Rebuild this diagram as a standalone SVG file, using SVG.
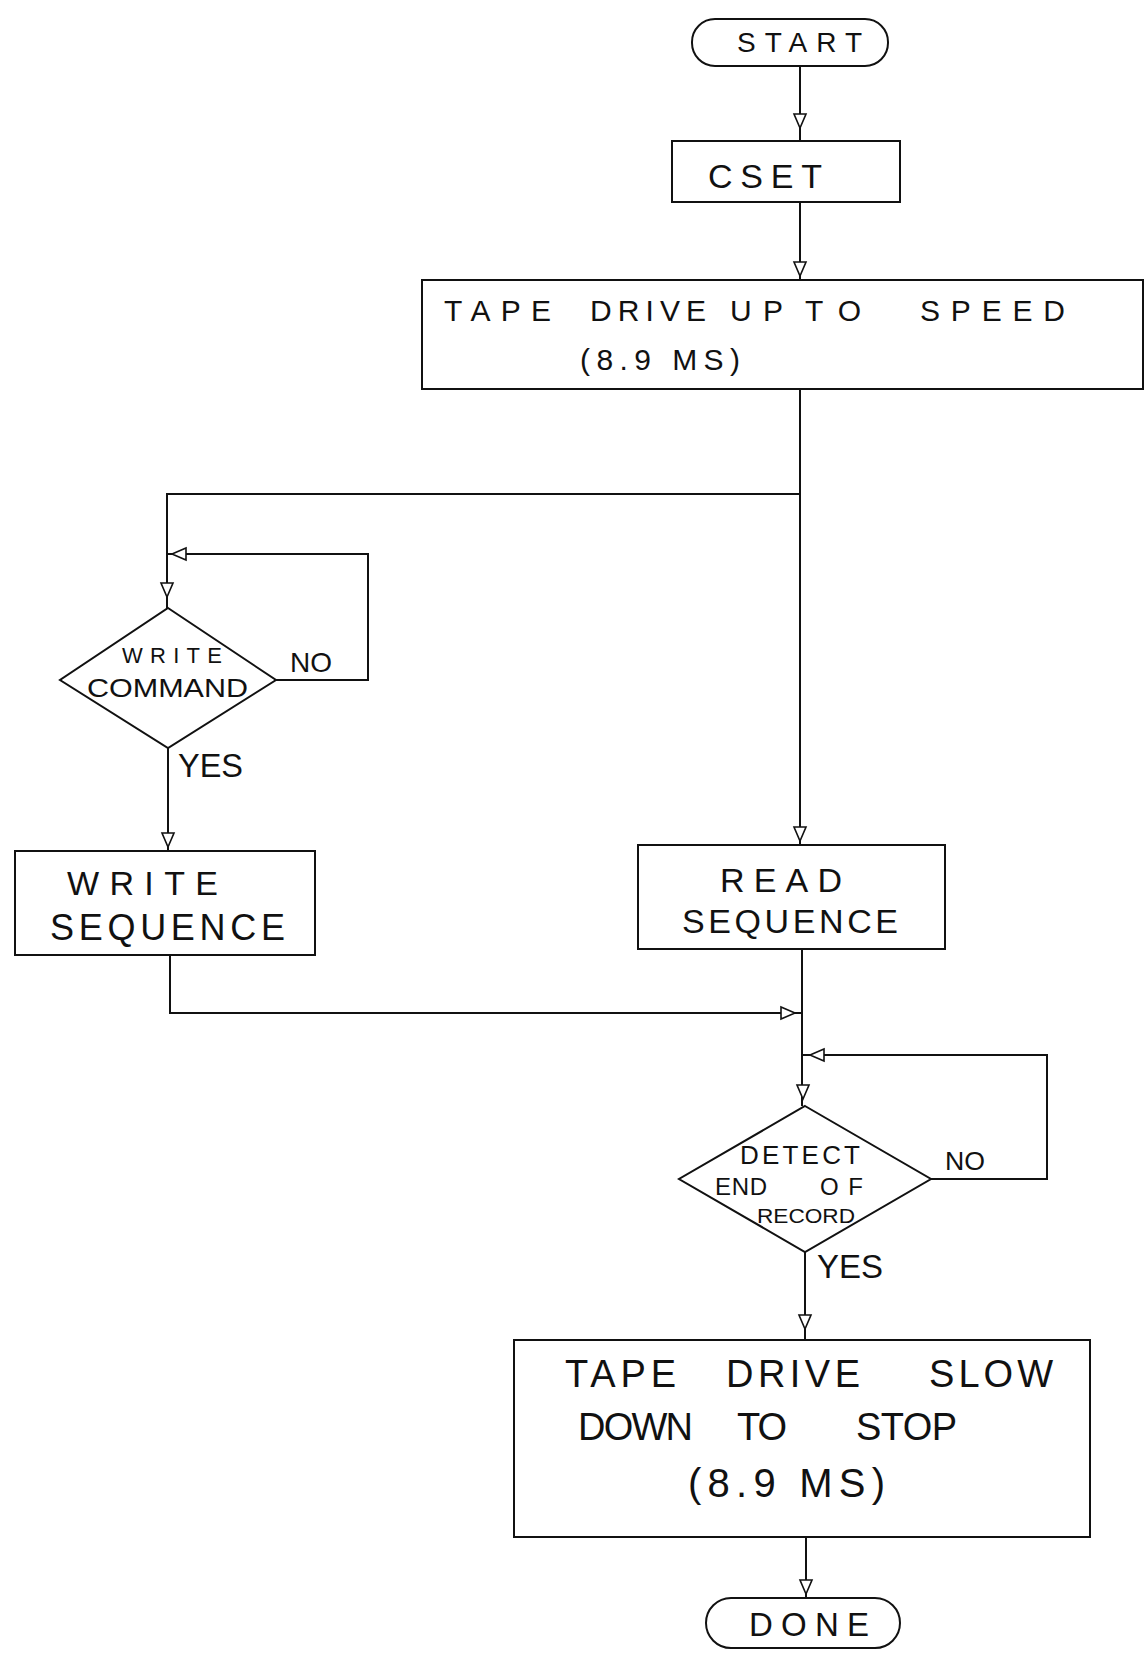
<svg xmlns="http://www.w3.org/2000/svg" xmlns:xlink="http://www.w3.org/1999/xlink" width="1145" height="1657" viewBox="0 0 1145 1657">
<style>
.shape{fill:#fff;stroke:#111;stroke-width:2}
.ln{fill:none;stroke:#111;stroke-width:2}
.ah{fill:#fff;stroke:#111;stroke-width:1.6}
text{font-family:"Liberation Sans","DejaVu Sans",sans-serif;fill:#111}
</style>
<defs>
<path id="ad" class="ah" d="M-6,-14 L6,-14 L0,0 Z"/>
<path id="al" class="ah" d="M14,-6 L14,6 L0,0 Z"/>
<path id="ar" class="ah" d="M-14,-6 L-14,6 L0,0 Z"/>
</defs>
<rect width="1145" height="1657" fill="#fff"/>
<g id="connectors">
<path class="ln" d="M800,66 V141"/>
<path class="ln" d="M800,202 V280"/>
<path class="ln" d="M800,389 V845"/>
<path class="ln" d="M800,494 H167 V608"/>
<path class="ln" d="M270,680 H368 V554 H167"/>
<path class="ln" d="M168,748 V851"/>
<path class="ln" d="M170,955 V1013 H802"/>
<path class="ln" d="M802,949 V1106"/>
<path class="ln" d="M927,1179 H1047 V1055 H803"/>
<path class="ln" d="M805,1252 V1340"/>
<path class="ln" d="M806,1537 V1598"/>
<use xlink:href="#ad" x="800" y="128"/>
<use xlink:href="#ad" x="800" y="276"/>
<use xlink:href="#ad" x="800" y="841"/>
<use xlink:href="#ad" x="167" y="597"/>
<use xlink:href="#al" x="172" y="554"/>
<use xlink:href="#ad" x="168" y="847"/>
<use xlink:href="#ar" x="795" y="1013"/>
<use xlink:href="#al" x="810" y="1055"/>
<use xlink:href="#ad" x="803" y="1099"/>
<use xlink:href="#ad" x="805" y="1329"/>
<use xlink:href="#ad" x="806" y="1594"/>
<text x="290" y="672" font-size="28" textLength="42" lengthAdjust="spacingAndGlyphs">NO</text>
<text x="178" y="777" font-size="33" textLength="65" lengthAdjust="spacingAndGlyphs">YES</text>
<text x="945" y="1170" font-size="25" textLength="40" lengthAdjust="spacingAndGlyphs">NO</text>
<text x="817" y="1278" font-size="33" textLength="66" lengthAdjust="spacingAndGlyphs">YES</text>
</g>
<g id="start">
<rect class="shape" x="692" y="19" width="196" height="47" rx="23"/>
<text x="737" y="52" font-size="28" textLength="125">START</text>
</g>
<g id="cset">
<rect class="shape" x="672" y="141" width="228" height="61"/>
<text x="708" y="188" font-size="34" textLength="114">CSET</text>
</g>
<g id="tape-up">
<rect class="shape" x="422" y="280" width="721" height="109"/>
<text y="321" font-size="30"><tspan x="444" textLength="107">TAPE</tspan><tspan x="590" textLength="116">DRIVE</tspan><tspan x="730" textLength="53">UP</tspan><tspan x="805" textLength="56">TO</tspan><tspan x="920" textLength="145">SPEED</tspan></text>
<text x="580" y="370" font-size="30" textLength="160">(8.9 MS)</text>
</g>
<g id="write-command">
<path class="shape" d="M168,608 L276,680 L168,748 L60,680 Z"/>
<text x="122" y="663" font-size="22" textLength="100">WRITE</text>
<text x="87" y="697" font-size="25" textLength="161" lengthAdjust="spacingAndGlyphs">COMMAND</text>
</g>
<g id="write-sequence">
<rect class="shape" x="15" y="851" width="300" height="104"/>
<text x="67" y="895" font-size="34" textLength="151">WRITE</text>
<text x="50" y="940" font-size="36" textLength="235">SEQUENCE</text>
</g>
<g id="read-sequence">
<rect class="shape" x="638" y="845" width="307" height="104"/>
<text x="720" y="892" font-size="34" textLength="122">READ</text>
<text x="682" y="933" font-size="34" textLength="216">SEQUENCE</text>
</g>
<g id="detect">
<path class="shape" d="M805,1106 L931,1179 L805,1252 L679,1179 Z"/>
<text x="740" y="1164" font-size="26" textLength="120">DETECT</text>
<text y="1195" font-size="24"><tspan x="715" textLength="52">END</tspan><tspan x="820" textLength="43">OF</tspan></text>
<text x="757" y="1223" font-size="21" textLength="98" lengthAdjust="spacingAndGlyphs">RECORD</text>
</g>
<g id="tape-slow">
<rect class="shape" x="514" y="1340" width="576" height="197"/>
<text y="1387" font-size="38"><tspan x="565" textLength="111">TAPE</tspan><tspan x="726" textLength="134">DRIVE</tspan><tspan x="929" textLength="124">SLOW</tspan></text>
<text y="1440" font-size="38"><tspan x="578" textLength="115">DOWN</tspan><tspan x="737" textLength="50">TO</tspan><tspan x="856" textLength="101">STOP</tspan></text>
<text x="688" y="1497" font-size="40" textLength="197">(8.9 MS)</text>
</g>
<g id="done">
<rect class="shape" x="706" y="1598" width="194" height="50" rx="25"/>
<text x="749" y="1636" font-size="33" textLength="120">DONE</text>
</g>
</svg>
